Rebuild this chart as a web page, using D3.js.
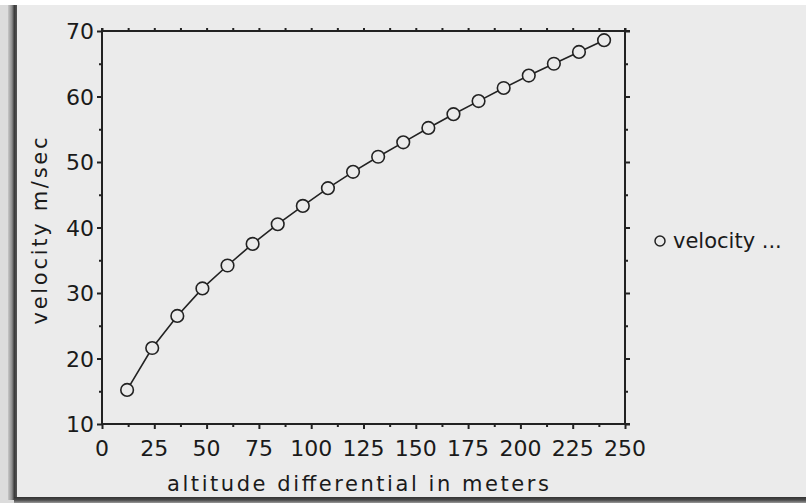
<!DOCTYPE html>
<html>
<head>
<meta charset="utf-8">
<script src="https://cdn.jsdelivr.net/npm/d3@7"></script>
<style>
  html, body { margin: 0; padding: 0; background: #ffffff; }
  svg { display: block; }
  text { font-family: "DejaVu Sans", sans-serif; fill: #1a1a1a; }
</style>
</head>
<body>
<svg id="chart" width="806" height="503"></svg>
<script>
// ---- data ----
const altitude = [12, 24, 36, 48, 60, 72, 84, 96, 108, 120, 132, 144, 156, 168, 180, 192, 204, 216, 228, 240];
const velocity = [15.2, 21.6, 26.5, 30.7, 34.2, 37.5, 40.5, 43.3, 46.0, 48.5, 50.8, 53.0, 55.2, 57.3, 59.3, 61.3, 63.2, 65.0, 66.8, 68.6];
const xTicks = [0, 25, 50, 75, 100, 125, 150, 175, 200, 225, 250];
const yTicks = [10, 20, 30, 40, 50, 60, 70];
const xTitle = "altitude differential in meters";
const yTitle = "velocity m/sec";
const legendLabel = "velocity ...";

(function () {
const svg = d3.select("#chart");
const W = 806, H = 503;
const bg = "#ebebeb";

// window background & frame
svg.append("rect").attr("x", 0).attr("y", 0).attr("width", W).attr("height", H).attr("fill", "#ffffff");
svg.append("rect").attr("x", 0).attr("y", 5).attr("width", W).attr("height", H - 5).attr("fill", "#dcdcdc");
svg.append("rect").attr("x", 17).attr("y", 5).attr("width", W - 17).attr("height", 492).attr("fill", bg);
const defs = svg.append("defs");
const lg = defs.append("linearGradient").attr("id", "lframe").attr("x1", "0").attr("x2", "1").attr("y1", "0").attr("y2", "0");
lg.append("stop").attr("offset", "0").attr("stop-color", "#c8c8c8");
lg.append("stop").attr("offset", "0.45").attr("stop-color", "#8a8a8a");
lg.append("stop").attr("offset", "0.7").attr("stop-color", "#3a3a3a");
lg.append("stop").attr("offset", "1").attr("stop-color", "#555555");
svg.append("rect").attr("x", 8).attr("y", 5).attr("width", 9).attr("height", 495).attr("fill", "url(#lframe)");
const bgr = defs.append("linearGradient").attr("id", "bframe").attr("x1", "0").attr("x2", "0").attr("y1", "0").attr("y2", "1");
bgr.append("stop").attr("offset", "0").attr("stop-color", "#333333");
bgr.append("stop").attr("offset", "0.5").attr("stop-color", "#4a4a4a");
bgr.append("stop").attr("offset", "1").attr("stop-color", "#9a9a9a");
svg.append("rect").attr("x", 14).attr("y", 497).attr("width", W - 14).attr("height", 6).attr("fill", "url(#bframe)");

// scales
const x = d3.scaleLinear().domain([0, 250]).range([102, 625]);
const y = d3.scaleLinear().domain([10, 70]).range([424, 31]);

const axisColor = "#222";
const g = svg.append("g");

// frame lines
g.append("line").attr("x1", x(0)).attr("x2", x(0)).attr("y1", y(70) - 3).attr("y2", y(10) + 1).attr("stroke", axisColor).attr("stroke-width", 2);
g.append("line").attr("x1", x(250)).attr("x2", x(250)).attr("y1", y(70) - 3).attr("y2", y(10) + 1).attr("stroke", axisColor).attr("stroke-width", 2);
g.append("line").attr("x1", x(0) - 1).attr("x2", x(250) + 5).attr("y1", y(70)).attr("y2", y(70)).attr("stroke", axisColor).attr("stroke-width", 2);
g.append("line").attr("x1", x(0) - 1).attr("x2", x(250) + 5).attr("y1", y(10)).attr("y2", y(10)).attr("stroke", axisColor).attr("stroke-width", 2);

const xMinor = d3.range(0, 251, 12.5);
const yMinor = d3.range(10, 71, 5);

const axB = g.append("g").attr("transform", `translate(0,${y(10)})`)
  .call(d3.axisBottom(x).tickValues(xMinor).tickSize(3).tickFormat(""));
const axT = g.append("g").attr("transform", `translate(0,${y(70)})`)
  .call(d3.axisTop(x).tickValues(xMinor).tickSize(3).tickFormat(""));
const axL = g.append("g").attr("transform", `translate(${x(0)},0)`)
  .call(d3.axisLeft(y).tickValues(yMinor).tickSize(3).tickFormat(""));
const axR = g.append("g").attr("transform", `translate(${x(250)},0)`)
  .call(d3.axisRight(y).tickValues(yMinor).tickSize(3).tickFormat(""));
[axB, axT, axL, axR].forEach(a => {
  a.select(".domain").remove();
  a.selectAll("line").attr("stroke", axisColor).attr("stroke-width", 2);
});
axB.selectAll(".tick line").attr("y2", d => (d % 25 === 0 ? 5 : 3));
axL.selectAll(".tick line").attr("x2", d => (d % 10 === 0 ? -5 : -3));
axR.selectAll(".tick line").attr("x2", d => (d % 10 === 0 ? 5 : 3));

// tick labels
g.selectAll("text.xt").data(xTicks).enter().append("text")
  .attr("class", "xt").attr("x", d => x(d)).attr("y", 456)
  .attr("text-anchor", "middle").attr("font-size", 22).text(d => d);
g.selectAll("text.yt").data(yTicks).enter().append("text")
  .attr("class", "yt").attr("x", 94).attr("y", d => y(d) + 8)
  .attr("text-anchor", "end").attr("font-size", 22).text(d => d);

// axis titles
svg.append("text").attr("x", 358).attr("y", 491).attr("text-anchor", "middle")
  .attr("font-size", 21).attr("textLength", 382).attr("lengthAdjust", "spacing").text(xTitle);
svg.append("text").attr("transform", "translate(47,231) rotate(-90)").attr("text-anchor", "middle")
  .attr("font-size", 21).attr("textLength", 187).attr("lengthAdjust", "spacing").text(yTitle);

// line + markers
const line = d3.line().x((d, i) => x(altitude[i])).y(d => y(d));
svg.append("path").datum(velocity).attr("d", line).attr("fill", "none")
  .attr("stroke", "#222").attr("stroke-width", 1.6);
svg.selectAll("circle.pt").data(velocity).enter().append("circle")
  .attr("class", "pt").attr("cx", (d, i) => x(altitude[i])).attr("cy", d => y(d))
  .attr("r", 6.3).attr("fill", bg).attr("stroke", "#222").attr("stroke-width", 1.6);

// legend
svg.append("circle").attr("cx", 660).attr("cy", 241).attr("r", 5).attr("fill", bg)
  .attr("stroke", "#222").attr("stroke-width", 1.5);
svg.append("text").attr("x", 673).attr("y", 248).attr("font-size", 21).text(legendLabel);
})();
</script>
</body>
</html>
